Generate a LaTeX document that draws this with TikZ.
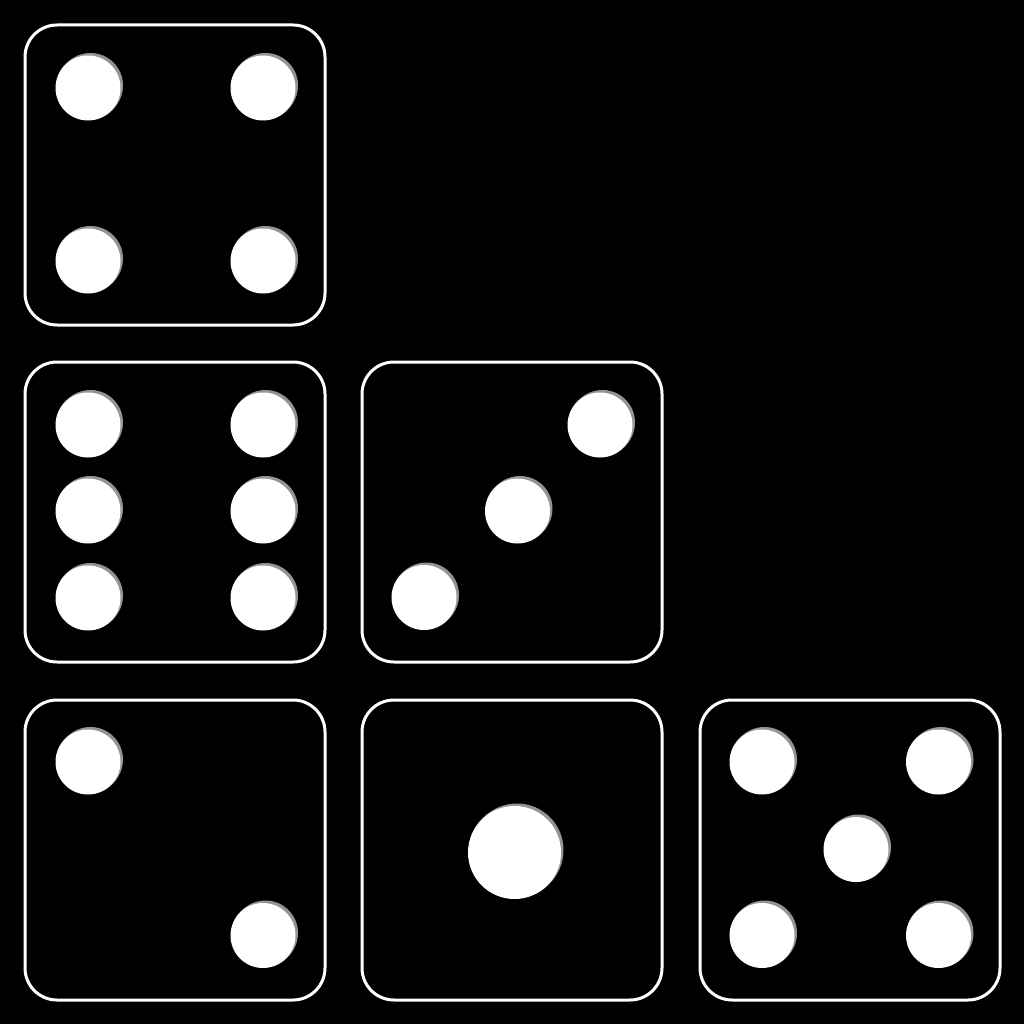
\documentclass[tikz,border=0pt]{standalone}
\begin{document}
\begin{tikzpicture}[x=1pt,y=-1pt,
  diebox/.style={draw=white,fill=black,line width=3pt,rounded corners=32pt},
  pipshade/.style={fill=black!42},
  pipface/.style={fill=white}]
\fill[black] (0,0) rectangle (1024,1024);
\useasboundingbox (0,0) rectangle (1024,1024);
\newcommand\mypip[3]{%
  \fill[pipshade] (#1+2.5,#2-2.5) circle (#3);
  \fill[pipshade,opacity=0.5] (#1+1.2,#2-1.2) circle (#3+0.6);
  \fill[pipface] (#1,#2) circle (#3);}
% die four
\draw[diebox] (25,25) rectangle (325,325);
\mypip{88}{88}{32.5}\mypip{263}{88}{32.5}
\mypip{88}{261}{32.5}\mypip{263}{261}{32.5}
% die six
\draw[diebox] (25,362) rectangle (325,662);
\mypip{88}{425}{32.5}\mypip{263}{425}{32.5}
\mypip{88}{511}{32.5}\mypip{263}{511}{32.5}
\mypip{88}{598}{32.5}\mypip{263}{598}{32.5}
% die three
\draw[diebox] (362,362) rectangle (662,662);
\mypip{600}{425}{32.5}\mypip{517.5}{511}{32.5}\mypip{424}{597.5}{32.5}
% die two
\draw[diebox] (25,700) rectangle (325,1000);
\mypip{88}{762}{32.5}\mypip{263}{935.5}{32.5}
% die one
\draw[diebox] (362,700) rectangle (662,1000);
\mypip{514.5}{852.5}{46.5}
% die five
\draw[diebox] (700,700) rectangle (1000,1000);
\mypip{762}{762}{32.5}\mypip{938.5}{762}{32.5}
\mypip{856}{849.5}{32.5}
\mypip{762}{935.5}{32.5}\mypip{938.5}{935.5}{32.5}
\end{tikzpicture}
\end{document}
